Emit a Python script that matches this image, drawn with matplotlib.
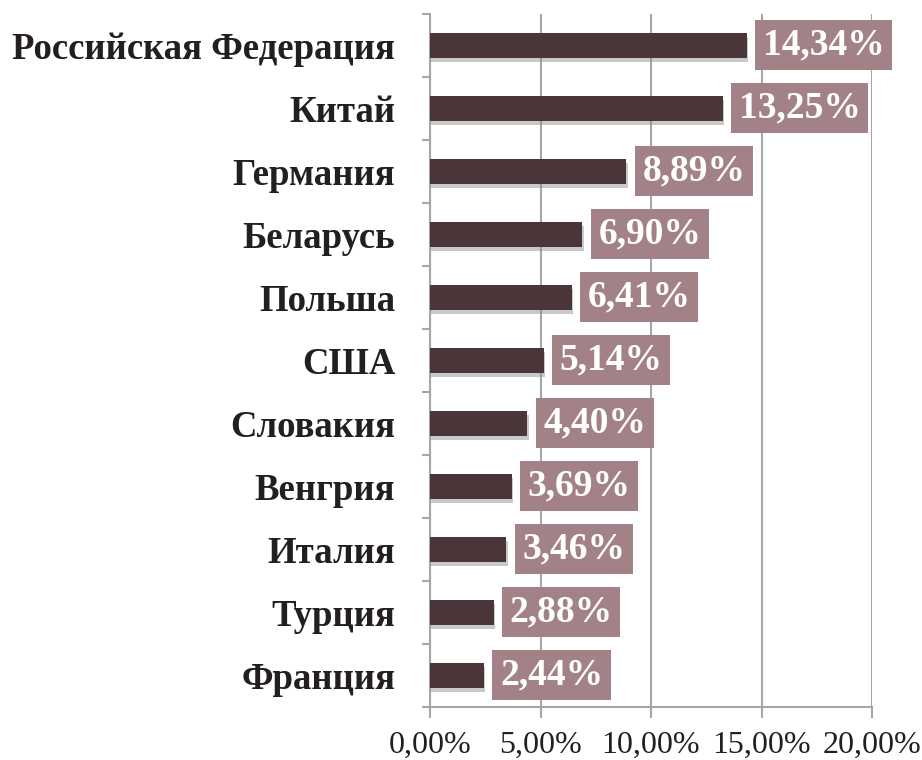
import matplotlib.pyplot as plt
import matplotlib.patheffects as pe
from matplotlib.ticker import FuncFormatter, FixedLocator

# Data
countries = ["Российская Федерация", "Китай", "Германия", "Беларусь", "Польша",
             "США", "Словакия", "Венгрия", "Италия", "Турция", "Франция"]
shares = [14.34, 13.25, 8.89, 6.90, 6.41, 5.14, 4.40, 3.69, 3.46, 2.88, 2.44]
x_ticks = [0, 5, 10, 15, 20]

BAR_COLOR = "#4a3539"
BOX_COLOR = "#a38287"
GRID_COLOR = "#a6a6a6"
TEXT_COLOR = "#231f20"

plt.rcParams["font.family"] = ["Liberation Serif", "DejaVu Serif"]

fig = plt.figure(figsize=(9.22, 7.6), dpi=100)
ax = fig.add_axes([430 / 922, 53 / 760, 442 / 922, 693 / 760])

y = list(range(len(countries)))[::-1]
bars = ax.barh(y, shares, height=0.4, color=BAR_COLOR, zorder=3)
for b in bars:
    b.set_path_effects([pe.SimplePatchShadow(offset=(1, -3), shadow_rgbFace="#888888", alpha=0.45),
                        pe.Normal()])

for yi, v in zip(y, shares):
    ax.annotate(f"{v:.2f}%".replace(".", ","), xy=(v, yi), xytext=(16, 1),
                textcoords="offset pixels", ha="left", va="center",
                fontsize=27, fontweight="bold", color="white", zorder=4,
                bbox=dict(boxstyle="square,pad=0.2", fc=BOX_COLOR, ec="none"))

ax.set_xlim(0, 20)
ax.set_ylim(-0.5, len(countries) - 0.5)
ax.xaxis.set_major_locator(FixedLocator(x_ticks))
ax.xaxis.set_major_formatter(FuncFormatter(lambda v, p: f"{v:.2f}%".replace(".", ",")))
ax.grid(axis="x", color=GRID_COLOR, linewidth=1.5, zorder=0)

ax.set_yticks(y)
ax.set_yticklabels(countries, fontsize=26.5, fontweight="bold", color=TEXT_COLOR)
ax.set_yticks([i - 0.5 for i in range(len(countries) + 1)], minor=True)
ax.tick_params(axis="y", which="major", length=0, pad=25)
ax.tick_params(axis="y", which="minor", length=6, width=1.5, color=GRID_COLOR, direction="out")
ax.tick_params(axis="x", length=8, width=1.5, color=GRID_COLOR, labelsize=23,
               labelcolor=TEXT_COLOR, pad=9)

for s in ["top", "right"]:
    ax.spines[s].set_visible(False)
for s in ["left", "bottom"]:
    ax.spines[s].set_color(GRID_COLOR)
    ax.spines[s].set_linewidth(1.5)

fig.savefig("out.png", dpi=100)
